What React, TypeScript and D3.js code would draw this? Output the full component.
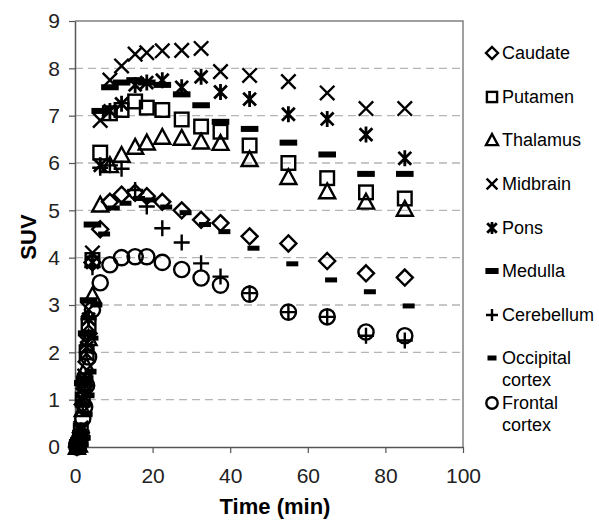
import React, { useEffect, useRef } from 'react';
import * as d3 from 'd3';

// time points (min)
const times = [0.5, 1, 1.5, 2, 2.5, 3, 3.5, 4.5, 6.5, 9, 12, 15.5, 18.5, 22.5, 27.5, 32.5, 37.5, 45, 55, 65, 75, 85];
const occipitalTimes = [1.5, 2, 2.5, 3, 3.5, 4, 4.5, 5.5, 7.5, 10, 13, 16.5, 19.5, 23.5, 28.5, 33.5, 38.5, 46, 56, 66, 76, 86];

const caudate = [0, 0.05, 0.3, 0.9, 1.3, 1.8, 2.4, 3.9, 4.6, 5.18, 5.33, 5.37, 5.3, 5.18, 5.0, 4.8, 4.73, 4.45, 4.3, 3.93, 3.67, 3.58];
const putamen = [0, 0.05, 0.35, 1.0, 1.4, 2.0, 2.6, 3.95, 6.22, 7.05, 7.12, 7.3, 7.17, 7.12, 6.92, 6.77, 6.66, 6.37, 6.0, 5.68, 5.38, 5.25];
const thalamus = [0, 0.05, 0.3, 0.8, 1.2, 1.7, 2.3, 3.2, 5.12, 5.95, 6.17, 6.34, 6.43, 6.55, 6.53, 6.45, 6.42, 6.08, 5.7, 5.4, 5.18, 5.03];
const midbrain = [0, 0.1, 0.4, 1.1, 1.5, 2.2, 2.9, 4.1, 6.9, 7.75, 8.05, 8.3, 8.33, 8.37, 8.38, 8.42, 7.93, 7.85, 7.72, 7.48, 7.15, 7.15];
const pons = [0, 0.1, 0.35, 1.0, 1.4, 2.1, 2.7, 3.9, 5.95, 7.1, 7.25, 7.65, 7.7, 7.75, 7.6, 7.82, 7.5, 7.35, 7.03, 6.93, 6.6, 6.1];
const medulla = [0.05, 0.15, 0.3, 1.35, 1.45, 2.4, 3.1, 4.7, 7.1, 7.6, 7.7, 7.75, 7.7, 7.65, 7.45, 7.22, 6.87, 6.72, 6.43, 6.18, 5.77, 5.77];
const cerebellum = [0, 0.1, 0.3, 0.9, 1.2, 2.0, 2.7, 3.8, 5.9, 5.95, 5.88, 5.43, 5.08, 4.62, 4.32, 3.88, 3.6, 3.25, 2.85, 2.75, 2.35, 2.25];
const occipital = [0, 0.05, 0.2, 0.7, 1.1, 1.6, 2.3, 3.0, 4.5, 5.05, 5.15, 5.25, 5.22, 5.07, 4.95, 4.7, 4.55, 4.2, 3.87, 3.53, 3.28, 2.98];
const frontal = [0, 0.05, 0.2, 0.6, 0.85, 1.3, 1.9, 2.9, 3.47, 3.85, 4.0, 4.02, 4.02, 3.9, 3.75, 3.57, 3.42, 3.23, 2.85, 2.75, 2.43, 2.35];

const xTicks = [0, 20, 40, 60, 80, 100];
const yTicks = [0, 1, 2, 3, 4, 5, 6, 7, 8, 9];

type Shape = 'diamond' | 'square' | 'triangle' | 'x' | 'star' | 'bar' | 'plus' | 'dash' | 'circle';

const series: { name: string[]; shape: Shape; t: number[]; v: number[] }[] = [
  { name: ['Caudate'], shape: 'diamond', t: times, v: caudate },
  { name: ['Putamen'], shape: 'square', t: times, v: putamen },
  { name: ['Thalamus'], shape: 'triangle', t: times, v: thalamus },
  { name: ['Midbrain'], shape: 'x', t: times, v: midbrain },
  { name: ['Pons'], shape: 'star', t: times, v: pons },
  { name: ['Medulla'], shape: 'bar', t: times, v: medulla },
  { name: ['Cerebellum'], shape: 'plus', t: times, v: cerebellum },
  { name: ['Occipital', 'cortex'], shape: 'dash', t: occipitalTimes, v: occipital },
  { name: ['Frontal', 'cortex'], shape: 'circle', t: times, v: frontal },
];

const legendY = [53, 97, 140, 184, 228, 271, 315, 358, 403];

const FONT = 'Arial, "Liberation Sans", Helvetica, sans-serif';

function drawMarker(g: any, shape: Shape, cx: number, cy: number, s: number) {
  const h = s / 2;
  const sw = 2.4;
  if (shape === 'diamond') {
    g.append('path').attr('d', `M${cx},${cy - h} L${cx + h},${cy} L${cx},${cy + h} L${cx - h},${cy} Z`)
      .attr('fill', 'none').attr('stroke', '#000').attr('stroke-width', sw);
  } else if (shape === 'square') {
    const a = h * 0.85;
    g.append('rect').attr('x', cx - a).attr('y', cy - a).attr('width', 2 * a).attr('height', 2 * a)
      .attr('fill', 'none').attr('stroke', '#000').attr('stroke-width', sw);
  } else if (shape === 'triangle') {
    g.append('path').attr('d', `M${cx},${cy - h} L${cx + h},${cy + h * 0.85} L${cx - h},${cy + h * 0.85} Z`)
      .attr('fill', 'none').attr('stroke', '#000').attr('stroke-width', sw);
  } else if (shape === 'x') {
    const a = h * 0.9;
    g.append('path').attr('d', `M${cx - a},${cy - a} L${cx + a},${cy + a} M${cx + a},${cy - a} L${cx - a},${cy + a}`)
      .attr('stroke', '#000').attr('stroke-width', sw);
  } else if (shape === 'star') {
    const a = h * 0.8;
    g.append('path').attr('d', `M${cx - a},${cy - a} L${cx + a},${cy + a} M${cx + a},${cy - a} L${cx - a},${cy + a} M${cx},${cy - h} L${cx},${cy + h}`)
      .attr('stroke', '#000').attr('stroke-width', 2.8);
  } else if (shape === 'bar') {
    g.append('rect').attr('x', cx - h * 1.1).attr('y', cy - 3).attr('width', s * 1.1).attr('height', 6).attr('fill', '#000');
  } else if (shape === 'plus') {
    g.append('path').attr('d', `M${cx - h},${cy} L${cx + h},${cy} M${cx},${cy - h} L${cx},${cy + h}`)
      .attr('stroke', '#000').attr('stroke-width', sw);
  } else if (shape === 'dash') {
    g.append('rect').attr('x', cx - h * 0.75).attr('y', cy - 2.5).attr('width', s * 0.75).attr('height', 5).attr('fill', '#000');
  } else if (shape === 'circle') {
    g.append('circle').attr('cx', cx).attr('cy', cy).attr('r', h * 0.95)
      .attr('fill', 'none').attr('stroke', '#000').attr('stroke-width', sw);
  }
}

const App = () => {
  const svgRef = useRef<SVGSVGElement>(null);

  useEffect(() => {
    const svg = d3.select(svgRef.current);
    svg.selectAll('*').remove();

    const x = d3.scaleLinear().domain([0, 100]).range([75, 463]);
    const y = d3.scaleLinear().domain([0, 9]).range([447, 21]);

    // dashed grid lines
    svg.append('g')
      .selectAll('line')
      .data(yTicks.filter(d => d > 0 && d < 9))
      .enter().append('line')
      .attr('x1', x(0)).attr('x2', x(100))
      .attr('y1', d => y(d)).attr('y2', d => y(d))
      .attr('stroke', '#b5b5b5').attr('stroke-width', 1.3).attr('stroke-dasharray', '8,5');

    // top and right frame
    svg.append('path')
      .attr('d', `M${x(0)},${y(9)} L${x(100)},${y(9)} L${x(100)},${y(0)}`)
      .attr('fill', 'none').attr('stroke', '#808080').attr('stroke-width', 1.5);

    const yAxis = svg.append('g')
      .attr('transform', `translate(${x(0)},0)`)
      .call(d3.axisLeft(y).tickValues(yTicks).tickSize(6).tickPadding(9).tickSizeOuter(0).tickFormat(d3.format('d')));
    const xAxis = svg.append('g')
      .attr('transform', `translate(0,${y(0)})`)
      .call(d3.axisBottom(x).tickValues(xTicks).tickSize(6).tickPadding(15).tickSizeOuter(0).tickFormat(d3.format('d')));

    [xAxis, yAxis].forEach(a => {
      a.select('.domain').attr('stroke', '#555').attr('stroke-width', 1.5);
      a.selectAll('.tick line').attr('stroke', '#555').attr('stroke-width', 1.2);
      a.selectAll('text').attr('fill', '#222').style('font-family', FONT).style('font-size', '21px');
    });

    // markers
    const marks = svg.append('g');
    series.forEach(s => {
      s.v.forEach((v, i) => drawMarker(marks, s.shape, x(s.t[i]), y(v), 16));
    });

    // axis titles
    svg.append('text')
      .attr('x', 275).attr('y', 514)
      .attr('text-anchor', 'middle')
      .style('font-family', FONT).style('font-size', '22px').style('font-weight', 'bold')
      .text('Time (min)');
    svg.append('text')
      .attr('transform', 'translate(36,237) rotate(-90)')
      .attr('text-anchor', 'middle')
      .style('font-family', FONT).style('font-size', '22px').style('font-weight', 'bold')
      .text('SUV');

    // legend
    const legend = svg.append('g');
    series.forEach((s, i) => {
      const ly = legendY[i];
      drawMarker(legend, s.shape, 492, ly, 12);
      s.name.forEach((line, j) => {
        legend.append('text')
          .attr('x', 502).attr('y', ly + j * 22)
          .attr('dy', '0.35em')
          .style('font-family', FONT).style('font-size', '18px')
          .text(line);
      });
    });
  }, []);

  return (
    <svg ref={svgRef} width={599} height={523}
      style={{ position: 'absolute', left: 0, top: 0, background: '#fff' }} />
  );
};

export default App;
